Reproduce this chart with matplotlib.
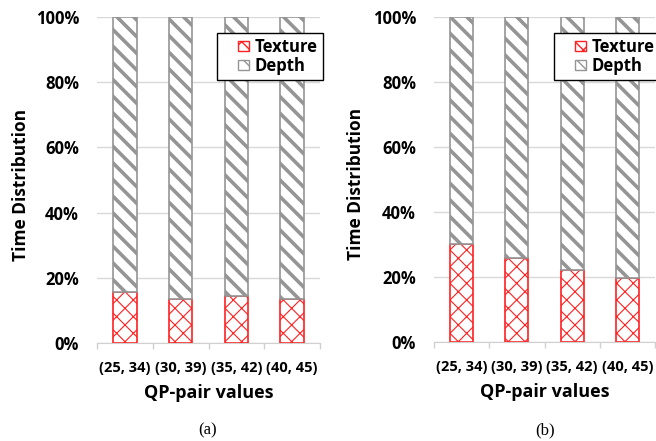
import matplotlib
matplotlib.use("Agg")
import matplotlib.pyplot as plt
import numpy as np
from matplotlib.patches import Patch, Rectangle
from matplotlib.legend_handler import HandlerPatch

categories = ["(25, 34)", "(30, 39)", "(35, 42)", "(40, 45)"]
texture_a = [15.6, 13.5, 14.5, 13.5]
texture_b = [30.3, 25.9, 22.3, 19.8]
yticks = [0, 20, 40, 60, 80, 100]
ytick_labels = ["0%", "20%", "40%", "60%", "80%", "100%"]
panel_labels = ["(a)", "(b)"]

FONT = "Open Sans"
RED = "#ff2020"
GRAY = "#959595"

fig = plt.figure(figsize=(6.56, 4.41), dpi=100)

def draw(ax, texture, label_x):
    x = np.arange(len(categories))
    tex = np.array(texture)
    dep = 100 - tex
    w = 0.42
    with plt.rc_context({"hatch.linewidth": 0.8}):
        b1 = ax.bar(x, tex, w, color="white", edgecolor=RED, hatch="xx", linewidth=1.2, zorder=3)
    with plt.rc_context({"hatch.linewidth": 2.6}):
        b2 = ax.bar(x, dep, w, bottom=tex, color="white", edgecolor=GRAY, hatch="\\\\", linewidth=1.2, zorder=3)
    for p in b1:
        if hasattr(p, "set_hatch_linewidth"):
            p.set_hatch_linewidth(0.8)
    for p in b2:
        if hasattr(p, "set_hatch_linewidth"):
            p.set_hatch_linewidth(2.6)
    ax.set_xlim(-0.5, len(categories) - 0.5)
    ax.set_ylim(0, 100)
    ax.set_yticks(yticks)
    ax.set_yticklabels(ytick_labels, fontfamily=FONT, fontweight="bold", fontsize=12)
    ax.set_xticks(x)
    ax.set_xticklabels(categories, fontfamily=FONT, fontweight="bold", fontsize=10.5)
    ax.set_xticks(np.arange(-0.5, len(categories)), minor=True)
    ax.tick_params(axis="x", which="major", length=0, pad=13)
    ax.tick_params(axis="x", which="minor", length=4, color="#d0d0d0", width=1)
    ax.tick_params(axis="y", length=0, pad=13)
    ax.grid(axis="y", color="#d9d9d9", linewidth=1, zorder=0)
    ax.set_axisbelow(True)
    for s in ["left", "right", "top"]:
        ax.spines[s].set_visible(False)
    ax.spines["bottom"].set_color("#d0d0d0")
    ax.spines["bottom"].set_zorder(4)
    ax.set_ylabel("Time Distribution", fontfamily=FONT, fontweight="bold", fontsize=12.5)
    ax.yaxis.set_label_coords(label_x, 0.485)
    ax.set_xlabel("QP-pair values", fontfamily=FONT, fontweight="bold", fontsize=13)
    ax.xaxis.set_label_coords(0.5, -0.125)

axa = fig.add_axes([97/656, 1-343/441, 223/656, 326/441])
axb = fig.add_axes([434/656, 1-342/441, 221/656, 325/441])
draw(axa, texture_a, -0.301)
draw(axb, texture_b, -0.313)

def square_patch(legend, orig_handle, xdescent, ydescent, width, height, fontsize):
    s = 0.62 * fontsize * 1.0
    return Rectangle((-xdescent + width - s, -ydescent + (height - s) / 2), s, s)

def legend(ax, x0, y0):
    with plt.rc_context({"hatch.linewidth": 0.8}):
        h1 = Patch(facecolor="white", edgecolor=RED, hatch="xx", label="Texture")
    with plt.rc_context({"hatch.linewidth": 2.0}):
        h2 = Patch(facecolor="white", edgecolor=GRAY, hatch="\\\\", label="Depth")
    hm = {h1: HandlerPatch(patch_func=square_patch), h2: HandlerPatch(patch_func=square_patch)}
    leg = fig.legend(handles=[h1, h2], handler_map=hm, loc="upper left",
                     bbox_to_anchor=(x0/656, 1-y0/441),
                     prop={"family": FONT, "weight": "bold", "size": 12},
                     frameon=True, fancybox=False, edgecolor="black", framealpha=1,
                     handlelength=1.6, handleheight=0.7, handletextpad=0.35,
                     borderpad=0.3, labelspacing=0.05, borderaxespad=0)
    leg.get_frame().set_linewidth(1.0)
    leg.set_zorder(10)

legend(axa, 217, 33)
legend(axb, 554, 33)

fig.text(208/656, 1-430/441, panel_labels[0], ha="center", va="center", fontfamily="Liberation Serif", fontsize=12)
fig.text(545/656, 1-430/441, panel_labels[1], ha="center", va="center", fontfamily="Liberation Serif", fontsize=12)

fig.savefig("out.png", dpi=100)
